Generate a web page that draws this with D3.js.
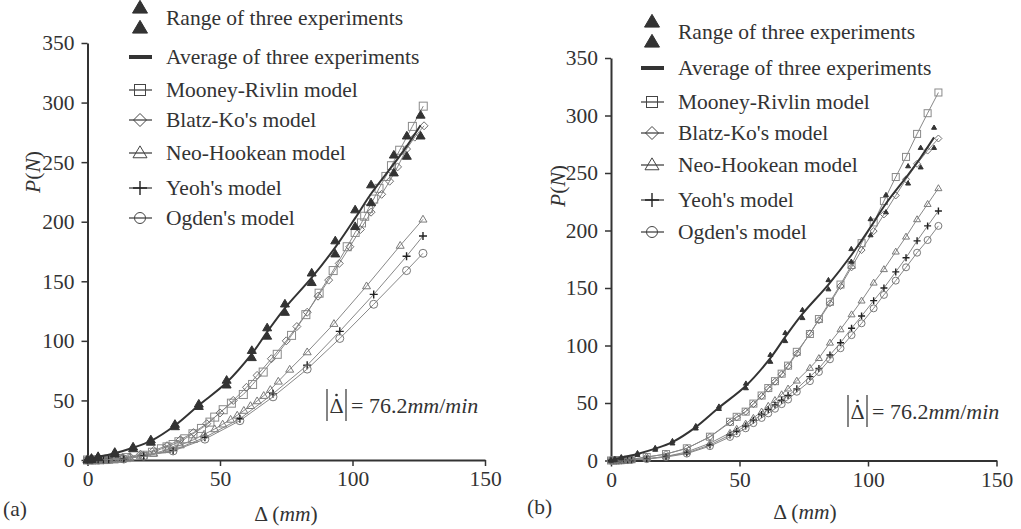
<!DOCTYPE html>
<html>
<head>
<meta charset="utf-8">
<script src="https://cdn.jsdelivr.net/npm/d3@7"></script>
<style>
    body { margin: 0; background: #fff; }
</style>
</head>
<body>
<svg id="chart" width="1021" height="529"></svg>
<script>

//- Experiment data (same three experiments shown in both panels)
const expDelta = [0, 1.5, 4, 10.3, 17.2, 23.9, 33, 42, 52.5, 62, 67.8, 74.5, 84.6, 93.5, 101, 107, 115.6, 120.5, 125.7];
const expUpper = [0.5, 1.5, 3, 6.5, 11, 17, 30, 47, 67, 92, 111, 131, 157, 184, 210, 231, 256, 272, 289.5];
const expLower = [0, 0.5, 2, 5, 9.5, 15, 28, 45, 63, 86, 104, 124, 149, 173, 196, 216, 241, 255, 272];
const expAverage = [0, 1, 2.5, 5.7, 10.3, 16, 29, 46, 65, 89, 107.5, 127.5, 153, 178.5, 203, 223.5, 248.5, 263.5, 281];

//- Panel (a) models
const aMooneyDelta = [0, 1.5, 3, 4.5, 6, 8, 10, 12, 14.7, 21, 24.5, 27.9, 30, 32.3, 34.5, 36.7, 39.8, 43, 46.2, 48, 51.2, 54.3, 58.8, 62.3, 66.3, 71.6, 77, 82.4, 87.4, 92.7, 98, 101, 103.4, 104.6, 106, 108, 110, 112.6, 114.7, 117.8, 122.6, 126.7];
const aMooneyP = [0, 0.05, 0.1, 0.2, 0.35, 0.6, 0.9, 1.3, 2, 4, 6.5, 9.4, 11, 13, 15.3, 17.8, 22, 26.5, 31.8, 36, 42.2, 47.7, 55, 63.4, 73.8, 88.7, 104.6, 122, 140, 159, 179, 191, 199, 204.6, 211, 219, 228, 238, 247, 260, 280, 297];

const aBlatzDelta = [0, 2, 4, 6, 8, 10, 13, 16, 20, 25, 30, 35, 40, 45, 50, 55, 60, 64, 69.4, 75, 79, 82.9, 87, 91, 95, 99, 103, 107, 111, 114, 117, 120.4, 123.5, 127];
const aBlatzP = [0, 0.1, 0.25, 0.45, 0.7, 1.1, 1.8, 2.8, 4.8, 8, 12, 17, 23, 30.5, 39.5, 50, 61, 71, 85, 100, 112, 124, 137.5, 151, 165, 179, 193.5, 208, 223, 234, 246, 261, 271, 280.5];

const aNeoDelta = [0, 2, 4, 6, 8, 10, 13, 16, 20, 25, 30, 35, 40, 44, 48, 51, 54, 56.5, 59, 61.5, 64, 66.5, 69, 72, 76.3, 82.9, 93, 105.3, 118, 126.6];
const aNeoP = [0, 0.05, 0.15, 0.3, 0.5, 0.7, 1.2, 1.9, 3.2, 5.5, 8.5, 12.5, 17, 21.5, 26, 30, 34, 37.5, 41.5, 45.5, 49.5, 54, 59, 66, 76, 90.6, 114.4, 146, 180, 202];

const aYeohDelta = [0, 2, 4, 6, 8, 13.7, 21.2, 32.3, 44.3, 57.5, 70, 82.9, 95.2, 108, 120.4, 126.6];
const aYeohP = [0, 0.05, 0.15, 0.3, 0.5, 1, 3.6, 8, 19, 34.6, 55.6, 79.5, 108, 139, 171, 188];
const aOgdenP = [0, 0.05, 0.12, 0.25, 0.4, 0.8, 3.2, 7.6, 17.5, 33, 53, 76.3, 102, 130.7, 159, 173.5];

//- Panel (b) models, all on one displacement grid
const bDelta = [0, 1, 2, 3, 4, 5, 6.5, 8, 13.9, 21.4, 29.5, 38.5, 46.3, 48.9, 52.4, 55.4, 58.6, 61.2, 63.8, 66.4, 68.9, 72.3, 77.4, 80.9, 85.2, 89.3, 93.6, 97.5, 102.2, 106.2, 110.8, 114.8, 119.1, 123.2, 127.4];
const bMooneyP = [0, 0, 0.1, 0.2, 0.3, 0.5, 0.8, 1.1, 3, 5.6, 10.6, 20.7, 33.7, 38, 42.5, 49.5, 56.5, 63, 69, 75.5, 82.5, 94.5, 110, 123, 138, 153, 170, 189, 207, 225.6, 246.5, 264, 284, 302, 320];
const bBlatzP = [0, 0, 0.1, 0.2, 0.3, 0.5, 0.8, 1.1, 3, 5.6, 10.6, 20.5, 33, 37.5, 42.5, 49, 56, 62.5, 68.5, 75, 82, 93, 110.6, 122, 136.7, 151.7, 168, 183, 199.5, 214, 230.5, 244.5, 258, 269.5, 280];
const bNeoP = [0, 0, 0, 0.1, 0.2, 0.3, 0.5, 0.7, 1.5, 3.5, 7.5, 15, 24, 27.5, 32, 37, 42.5, 47.5, 52.5, 57.5, 62.5, 69.4, 80.5, 89, 102.4, 114, 127, 139, 154.6, 166.3, 181.6, 194.6, 209.7, 223, 236.7];
const bYeohP = [0, 0, 0, 0.1, 0.2, 0.3, 0.5, 0.7, 1.5, 3.5, 6.5, 13.5, 22.2, 25.5, 30, 35, 40, 44.2, 48.3, 52.4, 56.5, 62.3, 72.9, 80, 91.7, 102.4, 115, 125.6, 139, 150, 164, 176.3, 191, 204, 217];
const bOgdenP = [0, 0, 0, 0.1, 0.15, 0.25, 0.4, 0.6, 1.2, 3, 6, 12.5, 20.5, 23.5, 28, 32.5, 37, 41, 45, 49, 53, 59.8, 69, 77, 88, 97.6, 109, 119.3, 132.3, 144, 156.4, 168, 180.7, 191.7, 204];

//- Axis ticks and legend
const xTicks = [0, 50, 100, 150];
const yTicks = [0, 50, 100, 150, 200, 250, 300, 350];
const legendNames = ["Range of three experiments", "Average of three experiments", "Mooney-Rivlin model",
    "Blatz-Ko's model", "Neo-Hookean model", "Yeoh's model", "Ogden's model"];


const svg = d3.select("#chart");

const AXISCOLOR = "#333";
const FONT = "'Liberation Serif', 'Times New Roman', serif";
const FONTSIZE = 21.5;

//- Marker colours
const STYLE = {
    square:  { color: "#8a8a8a" },
    diamond: { color: "#6e6e6e" },
    tri:     { color: "#7a7a7a" },
    plus:    { color: "#222" },
    circle:  { color: "#777" },
    fillTri: { color: "#333" }
};


function drawMarker(g, type, x, y, s, color) {
    /* draws one marker centred on x,y; s is its width in px */
    let h = s / 2;
    let c = color || STYLE[type].color;
    if (type == "square") {
        g.append("rect").attr("x", x - h).attr("y", y - h).attr("width", s).attr("height", s)
            .attr("fill", "none").attr("stroke", c).attr("stroke-width", 1);
    } else if (type == "diamond") {
        g.append("path").attr("d", `M${x},${y - h}L${x + h},${y}L${x},${y + h}L${x - h},${y}Z`)
            .attr("fill", "none").attr("stroke", c).attr("stroke-width", 1);
    } else if (type == "tri" || type == "fillTri") {
        let th = s * 0.85;
        g.append("path").attr("d", `M${x},${y - th * 0.6}L${x + h},${y + th * 0.4}L${x - h},${y + th * 0.4}Z`)
            .attr("fill", type == "fillTri" ? c : "none").attr("stroke", c).attr("stroke-width", 1);
    } else if (type == "plus") {
        g.append("path").attr("d", `M${x - h},${y}H${x + h}M${x},${y - h}V${y + h}`)
            .attr("stroke", c).attr("stroke-width", 1.4);
    } else if (type == "circle") {
        g.append("circle").attr("cx", x).attr("cy", y).attr("r", h)
            .attr("fill", "none").attr("stroke", c).attr("stroke-width", 1);
    }
}


function drawPanel(cfg) {
    /* draws one panel: axes, experiment data, model curves, legend and labels */

    let g = svg.append("g");

    let xScale = d3.scaleLinear().domain([0, 150]).range([cfg.left, cfg.right]);
    let yScale = d3.scaleLinear().domain([0, 350]).range([cfg.bottom, cfg.top]);

    //- Axes
    let xAxis = d3.axisBottom(xScale).tickValues(xTicks).tickSize(6).tickPadding(5).tickSizeOuter(0);
    let yAxis = d3.axisLeft(yScale).tickValues(yTicks).tickSize(6).tickPadding(7).tickSizeOuter(0);

    let gx = g.append("g").attr("transform", `translate(0, ${cfg.bottom})`).call(xAxis);
    let gy = g.append("g").attr("transform", `translate(${cfg.left}, 0)`).call(yAxis);

    [gx, gy].forEach(a => {
        a.attr("font-family", null).attr("font-size", null);
        a.select(".domain").attr("stroke", AXISCOLOR).attr("stroke-width", 2);
        a.selectAll(".tick line").attr("stroke", AXISCOLOR).attr("stroke-width", 1.5);
        a.selectAll(".tick text").attr("font-size", FONTSIZE).attr("fill", AXISCOLOR);
    });

    let line = d3.line().x(d => xScale(d[0])).y(d => yScale(d[1]));

    //- Model curves
    cfg.models.forEach(m => {
        let pts = m.delta.map((d, i) => [d, m.p[i]]);
        g.append("path").datum(pts).attr("d", line)
            .attr("fill", "none").attr("stroke", "#888").attr("stroke-width", 1);
        let mg = g.append("g");
        pts.forEach(p => drawMarker(mg, m.type, xScale(p[0]), yScale(p[1]), cfg.markerSize));
    });

    //- Average of experiments
    let avgPts = expDelta.map((d, i) => [d, expAverage[i]]);
    g.append("path").datum(avgPts)
        .attr("d", line.curve(d3.curveCatmullRom))
        .attr("fill", "none").attr("stroke", "#333").attr("stroke-width", 2);

    //- Range of experiments
    let rg = g.append("g");
    expDelta.forEach((d, i) => {
        drawMarker(rg, "fillTri", xScale(d), yScale(expUpper[i]), cfg.rangeSize);
        drawMarker(rg, "fillTri", xScale(d), yScale(expLower[i]), cfg.rangeSize);
    });

    //- Legend
    let lg = g.append("g");
    let lx = cfg.legendX;
    let ly = cfg.legendY;
    drawMarker(lg, "fillTri", lx, ly[0] - 10, 15, "#333");
    drawMarker(lg, "fillTri", lx, ly[0] + 10, 15, "#333");
    lg.append("line").attr("x1", lx - 11).attr("x2", lx + 12).attr("y1", ly[1]).attr("y2", ly[1])
        .attr("stroke", "#333").attr("stroke-width", 4);
    ["square", "diamond", "tri", "plus", "circle"].forEach((t, i) => {
        let y = ly[i + 2];
        lg.append("line").attr("x1", lx - 11).attr("x2", lx + 12).attr("y1", y).attr("y2", y)
            .attr("stroke", "#444").attr("stroke-width", 1.3);
        let size = {square: 11, diamond: 13, tri: 14, plus: 14, circle: 11}[t];
        drawMarker(lg, t, lx, y, size, t == "plus" ? "#222" : "#444");
    });
    legendNames.forEach((name, i) => {
        lg.append("text").attr("x", lx + 26).attr("y", ly[i] + 7)
            .attr("font-size", FONTSIZE).text(name);
    });

    //- Axis titles
    let yt = g.append("text")
        .attr("transform", `translate(${cfg.yTitleX}, ${cfg.yTitleY}) rotate(-90)`)
        .attr("text-anchor", "middle").attr("font-size", FONTSIZE);
    yt.append("tspan").attr("font-style", "italic").text("P");
    yt.append("tspan").text("(");
    yt.append("tspan").attr("font-style", "italic").text("N");
    yt.append("tspan").text(")");

    let xt = g.append("text").attr("x", cfg.xTitleX).attr("y", cfg.xTitleY)
        .attr("text-anchor", "middle").attr("font-size", FONTSIZE);
    xt.append("tspan").text("\u0394 (");
    xt.append("tspan").attr("font-style", "italic").text("mm");
    xt.append("tspan").text(")");

    g.append("text").attr("x", cfg.tagX).attr("y", cfg.xTitleY - 5)
        .attr("font-size", FONTSIZE).text(cfg.tag);

    //- Rate annotation |dot Delta| = 76.2 mm/min
    let ax = cfg.noteX;
    let ay = cfg.noteY;
    let ng = g.append("g");
    ng.append("line").attr("x1", ax).attr("x2", ax).attr("y1", ay - 17).attr("y2", ay + 15)
        .attr("stroke", "#333").attr("stroke-width", 1.2);
    ng.append("line").attr("x1", ax + 19).attr("x2", ax + 19).attr("y1", ay - 17).attr("y2", ay + 15)
        .attr("stroke", "#333").attr("stroke-width", 1.2);
    ng.append("text").attr("x", ax + 9.5).attr("y", ay + 7).attr("text-anchor", "middle")
        .attr("font-size", 22).text("\u0394");
    ng.append("circle").attr("cx", ax + 9.5).attr("cy", ay - 11).attr("r", 1.3).attr("fill", "#333");
    let nt = ng.append("text").attr("x", ax + 24).attr("y", ay + 7).attr("font-size", 22);
    nt.append("tspan").text("= 76.2");
    nt.append("tspan").attr("font-style", "italic").text("mm");
    nt.append("tspan").text("/");
    nt.append("tspan").attr("font-style", "italic").text("min");
}


drawPanel({
    left: 87.5, right: 485, top: 43, bottom: 460,
    markerSize: 8, rangeSize: 9,
    models: [
        { type: "square", delta: aMooneyDelta, p: aMooneyP },
        { type: "diamond", delta: aBlatzDelta, p: aBlatzP },
        { type: "tri", delta: aNeoDelta, p: aNeoP },
        { type: "plus", delta: aYeohDelta, p: aYeohP },
        { type: "circle", delta: aYeohDelta, p: aOgdenP }
    ],
    legendX: 140, legendY: [18, 57, 90, 120, 153, 188, 218],
    yTitleX: 40, yTitleY: 172, xTitleX: 286, xTitleY: 521, tag: "(a)", tagX: 3,
    noteX: 327, noteY: 406
});

drawPanel({
    left: 611, right: 996.5, top: 58, bottom: 460.5,
    markerSize: 7, rangeSize: 5,
    models: [
        { type: "square", delta: bDelta, p: bMooneyP },
        { type: "diamond", delta: bDelta, p: bBlatzP },
        { type: "tri", delta: bDelta, p: bNeoP },
        { type: "plus", delta: bDelta, p: bYeohP },
        { type: "circle", delta: bDelta, p: bOgdenP }
    ],
    legendX: 652, legendY: [32, 68, 102, 133, 165, 200, 232],
    yTitleX: 565, yTitleY: 186, xTitleX: 805, xTitleY: 519, tag: "(b)", tagX: 527,
    noteX: 848, noteY: 412
});

//- Serif face for every text element
svg.selectAll("text").style("font-family", FONT).style("fill", "#333");

</script>
</body>
</html>
